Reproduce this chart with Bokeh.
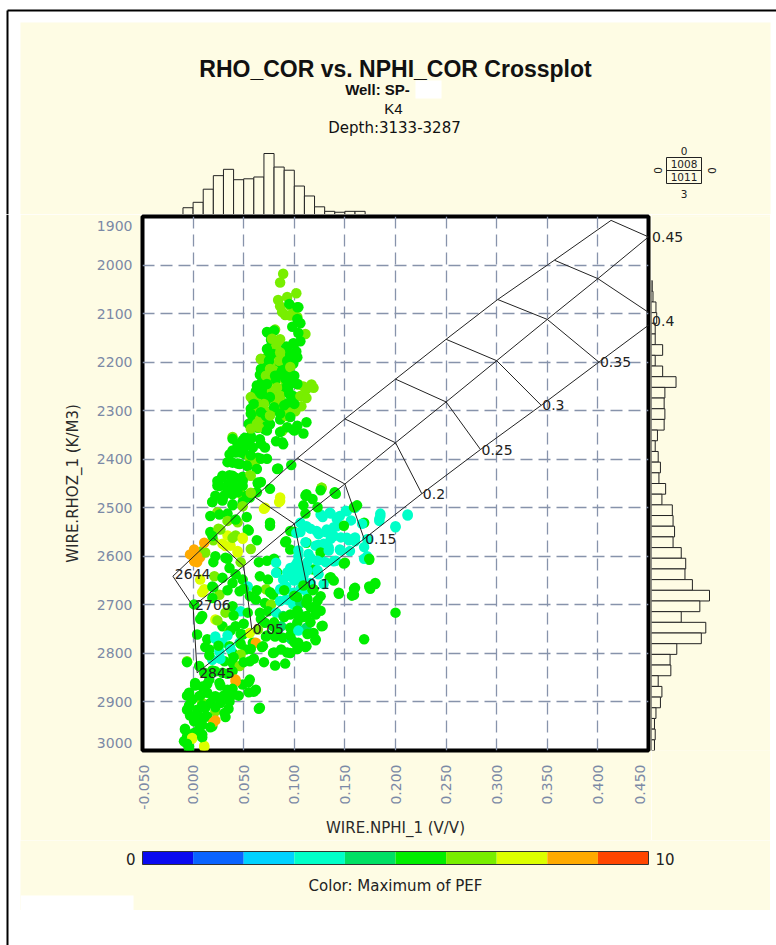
import math
from bokeh.plotting import figure
from bokeh.layouts import column, row
from bokeh.models import Range1d, FixedTicker, NumeralTickFormatter, LinearColorMapper, ColumnDataSource
from bokeh.transform import transform
from bokeh.core.properties import value
from bokeh.embed import file_html
from bokeh.resources import INLINE

# ---------------- data ----------------
TITLE = "RHO_COR vs. NPHI_COR Crossplot"
SUB_WELL = "Well: SP-"
SUB_ZONE = "K4"
SUB_DEPTH = "Depth:3133-3287"
X_LABEL = "WIRE.NPHI_1 (V/V)"
Y_LABEL = "WIRE.RHOZ_1 (K/M3)"
CBAR_LABEL = "Color: Maximum of PEF"
COUNT_BOX = ["0", "1008", "1011", "3", "0", "0"]   # top, plotted, total, bottom, left, right

X_TICKS = [-0.05, 0.0, 0.05, 0.1, 0.15, 0.2, 0.25, 0.3, 0.35, 0.4, 0.45]
X_EDGE_LABELS = ["-0.050", "0.450"]
Y_TICKS = [1900, 2000, 2100, 2200, 2300, 2400, 2500, 2600, 2700, 2800, 2900, 3000]
Y_EDGE_LABELS = ["1900", "3000"]
PEF_LOW, PEF_HIGH = 0, 10
PEF_EDGES = [0, 1, 2, 3, 4, 5, 6, 7, 8, 9, 10]
PALETTE = ["#0a0af0", "#0a64ff", "#00d2ff", "#00ffc8", "#00e064",
           "#00ee00", "#78ee00", "#dcff00", "#ffaa00", "#ff4600"]

# upper (shaly) cluster
NPHI_U = [0.089, 0.086, 0.102, 0.084, 0.093, 0.086, 0.096, 0.104, 0.091, 0.099,
          0.103, 0.098, 0.106, 0.074, 0.081, 0.111, 0.077, 0.086, 0.104, 0.075,
          0.082, 0.092, 0.099, 0.106, 0.067, 0.074, 0.079, 0.089, 0.096, 0.102,
          0.071, 0.077, 0.086, 0.092, 0.099, 0.066, 0.072, 0.081, 0.087, 0.094,
          0.068, 0.076, 0.082, 0.091, 0.098, 0.104, 0.109, 0.117, 0.119, 0.112,
          0.062, 0.071, 0.078, 0.086, 0.094, 0.099, 0.106, 0.112, 0.059, 0.066,
          0.072, 0.081, 0.087, 0.094, 0.102, 0.107, 0.057, 0.064, 0.071, 0.082,
          0.089, 0.096, 0.101, 0.059, 0.066, 0.072, 0.086, 0.092, 0.112, 0.057,
          0.064, 0.071, 0.076, 0.088, 0.099, 0.109, 0.039, 0.051, 0.057, 0.066,
          0.082, 0.089, 0.044, 0.052, 0.059, 0.071, 0.036, 0.042, 0.051, 0.056,
          0.064, 0.039, 0.046, 0.054, 0.061, 0.084, 0.097, 0.029, 0.036, 0.042,
          0.049, 0.056, 0.064, 0.026, 0.034, 0.041, 0.049, 0.022, 0.031, 0.039,
          0.049, 0.056, 0.086, 0.112, 0.127, 0.140]
RHOZ_U = [2018, 2036, 2058, 2072, 2066, 2085, 2084, 2087, 2103, 2099,
          2107, 2127, 2120, 2139, 2133, 2142, 2154, 2153, 2140, 2171,
          2168, 2168, 2161, 2157, 2194, 2188, 2183, 2185, 2188, 2178,
          2209, 2205, 2202, 2209, 2203, 2226, 2222, 2219, 2222, 2226,
          2241, 2239, 2236, 2239, 2243, 2246, 2250, 2246, 2253, 2256,
          2260, 2256, 2260, 2256, 2258, 2270, 2270, 2274, 2277, 2277,
          2280, 2277, 2280, 2284, 2291, 2291, 2296, 2298, 2299, 2298,
          2299, 2304, 2301, 2315, 2318, 2311, 2318, 2311, 2324, 2332,
          2335, 2339, 2328, 2342, 2339, 2347, 2354, 2356, 2352, 2359,
          2363, 2369, 2369, 2373, 2376, 2376, 2390, 2386, 2390, 2397,
          2397, 2407, 2410, 2414, 2407, 2419, 2412, 2434, 2433, 2438,
          2436, 2433, 2448, 2455, 2453, 2456, 2455, 2475, 2474, 2472,
          2475, 2479, 2479, 2472, 2459, 2469]
PEF_U = [6.5, 6.5, 6.5, 6.5, 6.5, 6.5, 6.5, 5.5, 6.5, 6.5,
         6.5, 5.5, 5.5, 5.5, 6.5, 6.5, 5.5, 6.5, 5.5, 5.5,
         6.5, 5.5, 5.5, 5.5, 6.5, 5.5, 5.5, 6.5, 5.5, 5.5,
         5.5, 6.5, 5.5, 5.5, 5.5, 5.5, 5.5, 6.5, 5.5, 5.5,
         5.5, 6.5, 5.5, 6.5, 5.5, 6.5, 6.5, 6.5, 6.5, 6.5,
         5.5, 5.5, 6.5, 5.5, 5.5, 5.5, 6.5, 6.5, 5.5, 6.5,
         5.5, 6.5, 6.5, 5.5, 6.5, 6.5, 5.5, 6.5, 6.5, 6.5,
         6.5, 6.5, 6.5, 5.5, 6.5, 5.5, 5.5, 6.5, 5.5, 5.5,
         5.5, 5.5, 5.5, 6.5, 5.5, 5.5, 6.5, 5.5, 5.5, 5.5,
         5.5, 5.5, 5.5, 5.5, 5.5, 5.5, 5.5, 5.5, 5.5, 6.5,
         5.5, 5.5, 5.5, 5.5, 6.5, 5.5, 5.5, 5.5, 5.5, 5.5,
         5.5, 6.5, 5.5, 5.5, 5.5, 5.5, 5.5, 5.5, 5.5, 5.5,
         6.5, 5.5, 7.5, 5.5, 6.5, 5.5]

NPHI_UA = [0.095, 0.088, 0.096, 0.103, 0.103, 0.073, 0.080, 0.078, 0.085, 0.093,
           0.100, 0.073, 0.086, 0.096, 0.067, 0.075, 0.085, 0.093, 0.103, 0.067,
           0.076, 0.088, 0.096, 0.072, 0.081, 0.091, 0.100, 0.063, 0.073, 0.083,
           0.093, 0.103, 0.057, 0.067, 0.076, 0.086, 0.095, 0.060, 0.070, 0.080,
           0.090, 0.100, 0.057, 0.067, 0.076, 0.086, 0.096, 0.055, 0.063, 0.073,
           0.093, 0.103]
RHOZ_UA = [2080, 2097, 2104, 2087, 2111, 2138, 2135, 2152, 2155, 2169,
           2162, 2173, 2180, 2183, 2193, 2197, 2197, 2197, 2190, 2214,
           2214, 2217, 2210, 2228, 2228, 2234, 2228, 2248, 2245, 2252,
           2248, 2245, 2272, 2265, 2272, 2269, 2265, 2286, 2286, 2293,
           2289, 2286, 2306, 2303, 2310, 2306, 2313, 2327, 2327, 2331,
           2334, 2331]
PEF_UA = [5.5, 6.5, 6.5, 5.5, 5.5, 5.5, 5.5, 6.5, 6.5, 5.5,
          5.5, 5.5, 6.5, 5.5, 6.5, 5.5, 6.5, 5.5, 5.5, 5.5,
          6.5, 5.5, 6.5, 6.5, 5.5, 5.5, 5.5, 5.5, 5.5, 6.5,
          5.5, 5.5, 6.5, 5.5, 5.5, 6.5, 5.5, 5.5, 6.5, 5.5,
          5.5, 5.5, 5.5, 5.5, 6.5, 5.5, 5.5, 5.5, 6.5, 5.5,
          5.5, 5.5]

# transition zone
NPHI_M = [0.057, 0.065, 0.073, 0.086, 0.100, 0.039, 0.049, 0.057, 0.067, 0.088,
          0.039, 0.047, 0.057, 0.067, 0.073, 0.083, 0.034, 0.044, 0.053, 0.063,
          0.029, 0.039, 0.049, 0.057, 0.067, 0.076, 0.024, 0.034, 0.044, 0.053,
          0.063, 0.019, 0.029, 0.039, 0.049, 0.085, 0.070, 0.024, 0.034, 0.044,
          0.053, 0.076, 0.017, 0.025, 0.034, 0.042, 0.049, 0.055, 0.063, 0.020,
          0.029, 0.037, 0.044, 0.057, 0.001, 0.007, 0.004, 0.012, 0.020, 0.034,
          0.047, 0.065, 0.073, 0.080, 0.091, 0.100, 0.083, 0.093, 0.101]
RHOZ_M = [2337, 2334, 2341, 2344, 2341, 2358, 2361, 2358, 2368, 2365,
          2382, 2386, 2392, 2399, 2399, 2420, 2406, 2409, 2413, 2420,
          2437, 2434, 2440, 2434, 2447, 2461, 2454, 2461, 2468, 2475,
          2468, 2488, 2485, 2495, 2488, 2488, 2502, 2509, 2512, 2530,
          2519, 2537, 2550, 2543, 2557, 2557, 2564, 2547, 2567, 2567,
          2574, 2578, 2592, 2585, 2592, 2602, 2612, 2592, 2612, 2605,
          2612, 2612, 2609, 2605, 2571, 2550, 2633, 2633, 2619]
PEF_M = [6.5, 6.5, 5.5, 5.5, 5.5, 5.5, 5.5, 5.5, 5.5, 5.5,
         5.5, 5.5, 5.5, 5.5, 5.5, 5.5, 5.5, 5.5, 5.5, 5.5,
         5.5, 5.5, 5.5, 6.5, 5.5, 5.5, 5.5, 5.5, 5.5, 5.5,
         5.5, 5.5, 5.5, 5.5, 5.5, 7.5, 7.5, 6.5, 5.5, 6.5,
         5.5, 5.5, 5.5, 6.5, 7.5, 6.5, 7.5, 5.5, 5.5, 6.5,
         7.5, 7.5, 7.5, 6.5, 8.5, 8.5, 8.5, 6.5, 5.5, 5.5,
         6.5, 5.5, 5.5, 5.5, 5.5, 5.5, 5.5, 3.5, 3.5]

# lower (clean) cluster
NPHI_L = [0.024, 0.039, 0.049, 0.034, 0.042, 0.029, 0.019, 0.064, 0.057, 0.039,
          0.049, 0.071, 0.086, 0.112, 0.127, 0.140, 0.017, 0.026, 0.034, 0.042,
          0.054, 0.076, 0.096, 0.027, 0.019, 0.039, 0.049, 0.032, 0.044, 0.022,
          0.032, 0.009, 0.001, 0.004, 0.001, 0.011, -0.003, 0.126, 0.135, 0.145,
          0.152, 0.160, 0.169, 0.172, 0.185, 0.184, 0.200, 0.212, 0.112, 0.122,
          0.132, 0.142, 0.139, 0.152, 0.160, 0.112, 0.124, 0.134, 0.145, 0.155,
          0.172, 0.174, 0.150, 0.139, 0.126, 0.116, 0.104, 0.096, 0.092, 0.102,
          0.106, 0.082, 0.096, 0.106, 0.119, 0.124, 0.135, 0.144, 0.159, 0.160,
          0.174, 0.180, 0.200, 0.169, 0.066, 0.074, 0.082, 0.089, 0.096, 0.102,
          0.109, 0.116, 0.072, 0.079, 0.086, 0.092, 0.099, 0.106, 0.112, 0.119,
          0.126, 0.062, 0.071, 0.077, 0.086, 0.092, 0.099, 0.106, 0.112, 0.121,
          0.066, 0.074, 0.082, 0.089, 0.096, 0.104, 0.112, 0.121, 0.127, 0.071,
          0.079, 0.087, 0.096, 0.104, 0.112, 0.119, 0.121, 0.112, 0.072, 0.081,
          0.089, 0.097, 0.104, 0.059, 0.069, 0.079, 0.087, 0.096, 0.106, 0.021,
          0.029, 0.036, 0.042, 0.049, 0.007, 0.011, 0.019, 0.026, 0.019, 0.039,
          0.046, 0.054, 0.056, 0.001, 0.009, 0.022, 0.032, 0.039, 0.047, 0.054,
          0.029, 0.036, 0.042, 0.049, 0.056, 0.064, 0.062, 0.004, 0.014, 0.022,
          0.029, 0.036, 0.046, 0.052, 0.016, 0.026, 0.039, 0.047, 0.056, 0.019,
          0.031, 0.039, 0.046, -0.006, 0.006, 0.011, 0.022, 0.029, 0.039, 0.042,
          0.049, 0.056, 0.062, 0.055, 0.002, 0.009, 0.016, 0.026, 0.034, 0.039,
          -0.004, 0.006, 0.014, 0.022, -0.001, 0.009, 0.017, 0.027, 0.036, 0.066,
          -0.006, 0.004, 0.012, 0.022, 0.031, 0.006, 0.014, 0.022, 0.001, 0.009,
          0.019, -0.008, 0.001, 0.009, -0.006, -0.001, -0.009, -0.004, 0.011]
RHOZ_L = [2445, 2448, 2445, 2466, 2459, 2483, 2488, 2450, 2469, 2493,
          2497, 2500, 2486, 2475, 2459, 2468, 2517, 2514, 2527, 2524,
          2545, 2531, 2548, 2545, 2558, 2562, 2562, 2579, 2589, 2600,
          2603, 2589, 2586, 2600, 2610, 2572, 2596, 2514, 2510, 2517,
          2507, 2500, 2531, 2565, 2517, 2527, 2538, 2514, 2538, 2548,
          2545, 2538, 2558, 2562, 2569, 2572, 2576, 2582, 2586, 2589,
          2600, 2607, 2613, 2610, 2607, 2603, 2600, 2586, 2569, 2552,
          2531, 2613, 2624, 2624, 2627, 2637, 2644, 2675, 2679, 2665,
          2662, 2655, 2716, 2771, 2641, 2648, 2634, 2648, 2641, 2648,
          2641, 2655, 2668, 2679, 2668, 2662, 2675, 2668, 2672, 2668,
          2682, 2689, 2696, 2699, 2692, 2689, 2699, 2696, 2696, 2703,
          2716, 2713, 2716, 2723, 2720, 2716, 2723, 2720, 2744, 2737,
          2744, 2744, 2747, 2751, 2747, 2758, 2771, 2785, 2765, 2765,
          2768, 2771, 2778, 2778, 2785, 2799, 2792, 2799, 2785, 2641,
          2644, 2624, 2637, 2648, 2648, 2668, 2662, 2679, 2686, 2655,
          2672, 2662, 2682, 2699, 2723, 2730, 2716, 2703, 2713, 2716,
          2744, 2754, 2744, 2761, 2758, 2751, 2778, 2761, 2771, 2765,
          2778, 2785, 2778, 2792, 2792, 2796, 2799, 2802, 2816, 2813,
          2816, 2820, 2826, 2816, 2826, 2840, 2837, 2840, 2837, 2854,
          2864, 2854, 2875, 2880, 2861, 2868, 2854, 2861, 2875, 2885,
          2881, 2888, 2881, 2888, 2895, 2902, 2902, 2902, 2899, 2912,
          2916, 2916, 2912, 2919, 2923, 2930, 2930, 2938, 2940, 2947,
          2950, 2957, 2964, 2967, 2971, 2974, 2981, 2992, 2990]
PEF_L = [5.5, 5.5, 5.5, 5.5, 5.5, 5.5, 5.5, 5.5, 6.5, 5.5,
         6.5, 7.5, 7.5, 5.5, 6.5, 5.5, 5.5, 5.5, 6.5, 5.5,
         5.5, 5.5, 5.5, 6.5, 5.5, 6.5, 7.5, 7.5, 7.5, 5.5,
         5.5, 6.5, 8.5, 8.5, 8.5, 8.5, 8.5, 3.5, 3.5, 3.5,
         3.5, 3.5, 5.5, 3.5, 3.5, 3.5, 3.5, 3.5, 3.5, 3.5,
         3.5, 3.5, 3.5, 3.5, 3.5, 5.5, 3.5, 3.5, 3.5, 3.5,
         3.5, 5.5, 5.5, 3.5, 3.5, 3.5, 3.5, 5.5, 5.5, 3.5,
         3.5, 3.5, 3.5, 3.5, 5.5, 3.5, 5.5, 5.5, 5.5, 5.5,
         5.5, 5.5, 5.5, 5.5, 5.5, 5.5, 3.5, 3.5, 3.5, 3.5,
         3.5, 3.5, 6.5, 5.5, 3.5, 3.5, 3.5, 3.5, 3.5, 5.5,
         5.5, 5.5, 5.5, 6.5, 3.5, 3.5, 3.5, 4.5, 5.5, 5.5,
         5.5, 5.5, 3.5, 4.5, 5.5, 4.5, 5.5, 5.5, 5.5, 5.5,
         5.5, 4.5, 5.5, 5.5, 4.5, 5.5, 5.5, 5.5, 5.5, 5.5,
         5.5, 4.5, 5.5, 5.5, 5.5, 5.5, 5.5, 5.5, 5.5, 6.5,
         5.5, 5.5, 5.5, 5.5, 7.5, 7.5, 5.5, 6.5, 5.5, 5.5,
         5.5, 3.5, 5.5, 5.5, 5.5, 7.5, 6.5, 5.5, 3.5, 5.5,
         5.5, 6.5, 5.5, 5.5, 7.5, 6.5, 8.5, 5.5, 5.5, 3.5,
         3.5, 5.5, 3.5, 5.5, 5.5, 3.5, 5.5, 6.5, 5.5, 3.5,
         5.5, 5.5, 6.5, 6.5, 5.5, 5.5, 5.5, 5.5, 5.5, 8.5,
         5.5, 5.5, 5.5, 5.5, 5.5, 5.5, 5.5, 5.5, 5.5, 5.5,
         5.5, 5.5, 5.5, 5.5, 5.5, 6.5, 5.5, 5.5, 5.5, 5.5,
         5.5, 5.5, 5.5, 6.5, 5.5, 5.5, 5.5, 8.5, 5.5, 5.5,
         5.5, 5.5, 5.5, 5.5, 5.5, 7.5, 5.5, 5.5, 7.5]

NPHI_L2 = [0.009, 0.020, 0.034, 0.050, 0.063, 0.076, 0.090, 0.100, 0.007, 0.024,
           0.040, 0.037, 0.050, 0.067, 0.080, 0.090, 0.103, 0.022, 0.034, 0.047,
           0.073, 0.083, 0.096, 0.012, 0.025, 0.037, 0.047, 0.057, 0.068, 0.080,
           0.093, 0.103, -0.006, 0.016, 0.027, 0.040, 0.050, 0.060, 0.070, 0.081,
           0.091, 0.019, 0.034, 0.042, 0.055, 0.002, 0.014, 0.027, 0.039, 0.060,
           -0.006, 0.007, 0.020, 0.030, 0.045, -0.004, 0.009, 0.022, 0.035, 0.065,
           -0.003, 0.011, 0.020, 0.032, -0.008, 0.006, 0.017, -0.001, 0.009, -0.006,
           0.011, -0.004]
RHOZ_L2 = [2674, 2664, 2670, 2667, 2670, 2674, 2670, 2681, 2729, 2732,
           2722, 2753, 2739, 2729, 2736, 2725, 2736, 2770, 2763, 2760,
           2763, 2756, 2763, 2787, 2784, 2791, 2780, 2791, 2787, 2798,
           2798, 2791, 2818, 2804, 2811, 2808, 2818, 2811, 2818, 2825,
           2821, 2835, 2842, 2858, 2859, 2866, 2863, 2866, 2873, 2879,
           2887, 2887, 2890, 2887, 2887, 2907, 2907, 2911, 2914, 2914,
           2928, 2931, 2942, 2931, 2955, 2955, 2952, 2976, 2973, 2986,
           2993, 2998]
PEF_L2 = [7.5, 5.5, 5.5, 5.5, 5.5, 5.5, 5.5, 5.5, 5.5, 6.5,
          5.5, 5.5, 5.5, 5.5, 5.5, 5.5, 5.5, 3.5, 3.5, 5.5,
          5.5, 5.5, 5.5, 5.5, 5.5, 3.5, 5.5, 5.5, 5.5, 5.5,
          5.5, 5.5, 5.5, 5.5, 3.5, 5.5, 5.5, 5.5, 5.5, 5.5,
          5.5, 5.5, 5.5, 8.5, 5.5, 5.5, 5.5, 5.5, 5.5, 5.5,
          5.5, 5.5, 5.5, 5.5, 5.5, 5.5, 5.5, 5.5, 5.5, 5.5,
          5.5, 5.5, 8.5, 5.5, 5.5, 5.5, 5.5, 7.5, 5.5, 5.5,
          7.5, 5.5]

NPHI_A = [0.111, 0.118, 0.126, 0.141, 0.109, 0.111, 0.123, 0.128, 0.136, 0.142,
          0.151, 0.159, 0.162, 0.167, 0.156, 0.149, 0.139, 0.131, 0.124, 0.116,
          0.106, 0.111, 0.121, 0.129, 0.136, 0.146, 0.154, 0.160, 0.169, 0.184,
          0.185, 0.200, 0.212, 0.104, 0.114, 0.126, 0.134, 0.146, 0.141, 0.149,
          0.169, 0.174, 0.103, 0.113, 0.123, 0.131, 0.103, 0.113, 0.123, 0.136,
          0.129, 0.139, 0.100, 0.109, 0.118, 0.144, 0.159, 0.175, 0.180, 0.157,
          0.103, 0.113, 0.123, 0.116, 0.103, 0.126, 0.103, 0.109, 0.116, 0.128,
          0.104, 0.113, 0.121, 0.100, 0.111]
RHOZ_A = [2475, 2482, 2464, 2471, 2495, 2512, 2499, 2519, 2512, 2523,
          2506, 2499, 2495, 2533, 2526, 2537, 2540, 2550, 2554, 2543,
          2550, 2571, 2578, 2574, 2564, 2561, 2567, 2561, 2581, 2523,
          2512, 2540, 2516, 2588, 2595, 2592, 2588, 2588, 2609, 2615,
          2605, 2605, 2612, 2612, 2609, 2612, 2633, 2629, 2629, 2643,
          2657, 2650, 2650, 2660, 2670, 2677, 2667, 2667, 2657, 2681,
          2684, 2688, 2691, 2705, 2712, 2712, 2719, 2725, 2736, 2743,
          2753, 2760, 2773, 2777, 2787]
PEF_A = [5.5, 5.5, 5.5, 5.5, 5.5, 5.5, 5.5, 3.5, 3.5, 3.5,
         3.5, 5.5, 5.5, 3.5, 3.5, 5.5, 3.5, 3.5, 3.5, 3.5,
         3.5, 3.5, 3.5, 3.5, 3.5, 3.5, 3.5, 3.5, 3.5, 3.5,
         3.5, 3.5, 3.5, 3.5, 3.5, 5.5, 3.5, 3.5, 3.5, 5.5,
         3.5, 5.5, 3.5, 3.5, 3.5, 3.5, 3.5, 3.5, 3.5, 5.5,
         3.5, 5.5, 3.5, 5.5, 5.5, 5.5, 5.5, 5.5, 5.5, 5.5,
         5.5, 5.5, 5.5, 5.5, 5.5, 5.5, 5.5, 5.5, 5.5, 5.5,
         3.5, 5.5, 5.5, 5.5, 5.5]

# marginal histograms
NPHI_BIN_W = 0.01
TOP_BIN_LEFT = [-0.01, 0.0, 0.01, 0.02, 0.03, 0.04, 0.05, 0.06, 0.07,
                0.08, 0.09, 0.10, 0.11, 0.12, 0.13, 0.14, 0.15, 0.16]
TOP_COUNTS = [15, 27, 56, 86, 100, 77, 79, 83, 135, 105, 98, 63, 41, 17, 7, 5, 7, 7]
RHOZ_BIN_W = 22
RIGHT_BIN_TOP = [2032, 2054, 2076, 2098, 2120, 2142, 2164, 2186, 2208, 2230, 2252,
                 2274, 2296, 2318, 2340, 2362, 2384, 2406, 2428, 2450, 2472, 2494,
                 2516, 2538, 2560, 2582, 2604, 2626, 2648, 2670, 2692, 2714, 2736,
                 2758, 2780, 2802, 2824, 2846, 2868, 2890, 2912, 2934, 2956, 2978]
RIGHT_COUNTS = [1, 2, 6, 7, 5, 5, 15, 5, 15, 33, 18, 17, 18, 17, 8, 5, 9, 12, 10, 19,
                14, 28, 29, 31, 29, 40, 46, 45, 55, 78, 65, 40, 73, 67, 34, 25, 26, 9,
                14, 12, 6, 4, 5, 4]

# lithology chart overlay (porosity 0 .. 0.45)
PHI_LABELS = ["0", "0.05", "0.1", "0.15", "0.2", "0.25", "0.3", "0.35", "0.4", "0.45"]
SAND_NPHI = [-0.020, 0.020, 0.061, 0.103, 0.150, 0.200, 0.250, 0.301, 0.357, 0.413]
SAND_RHOZ = [2641, 2562, 2478, 2398, 2317, 2235, 2153, 2071, 1990, 1908]
LIME_NPHI = [0.0, 0.05, 0.10, 0.15, 0.20, 0.25, 0.30, 0.35, 0.40, 0.45]
LIME_RHOZ = [2703, 2620, 2533, 2451, 2366, 2282, 2197, 2112, 2028, 1942]
DOLO_NPHI = [0.004, 0.058, 0.112, 0.169, 0.226, 0.284, 0.344, 0.401, 0.459, 0.517]
DOLO_RHOZ = [2840, 2750, 2656, 2564, 2471, 2380, 2289, 2200, 2110, 2018]
MATRIX_LABELS = ["2644", "2706", "2845"]
EDGE_LABELS = ["0.4", "0.45"]
EDGE_LABEL_NPHI = [0.4535, 0.4535]
EDGE_LABEL_RHOZ = [2116, 1942]

NPHI = NPHI_U + NPHI_UA + NPHI_M + NPHI_L + NPHI_L2 + NPHI_A
RHOZ = RHOZ_U + RHOZ_UA + RHOZ_M + RHOZ_L + RHOZ_L2 + RHOZ_A
PEF = PEF_U + PEF_UA + PEF_M + PEF_L + PEF_L2 + PEF_A
for a, b, c in [(NPHI_U, RHOZ_U, PEF_U), (NPHI_UA, RHOZ_UA, PEF_UA), (NPHI_M, RHOZ_M, PEF_M),
                (NPHI_L, RHOZ_L, PEF_L), (NPHI_L2, RHOZ_L2, PEF_L2), (NPHI_A, RHOZ_A, PEF_A)]:
    assert len(a) == len(b) == len(c), (len(a), len(b), len(c))

# ---------------- layout / styling ----------------
CREAM = "#fefce4"
INK = "#222222"
TICK_COL = "#7b89a6"
GRID_COL = "#8793ab"
PAGE_W = 776
TOP_H = 214
LEFT_W = 20
CREAM_R, CREAM_B = 770, 910
FRAME_L, FRAME_R, FRAME_T, FRAME_B = 142, 648, 216, 750
MAIN_W = 651 - LEFT_W
MAIN_H = 840 - TOP_H
X0, X1 = -0.05, 0.45
Y0, Y1 = 3000, 1900
PX_PER_NPHI = (FRAME_R - FRAME_L) / (X1 - X0)
TOP_HIST_PX = 61
RIGHT_HIST_PX = 58
SANS = value("Liberation Sans")
DJ = value("DejaVu Sans")


def blank(w, h, xr, yr, bg):
    f = figure(width=w, height=h, x_range=xr, y_range=yr, x_axis_type=None, y_axis_type=None,
               toolbar_location=None, output_backend="svg", title=None, min_border=0)
    f.background_fill_color = bg
    f.border_fill_color = bg
    f.outline_line_color = None
    return f


# ---- top strip: titles, count box, NPHI histogram
T = blank(PAGE_W, TOP_H, Range1d(0, PAGE_W), Range1d(TOP_H, 0), "white")
T.extra_x_ranges = {"nphi": Range1d(X0 - FRAME_L / PX_PER_NPHI, X1 + (PAGE_W - FRAME_R) / PX_PER_NPHI)}
T.extra_y_ranges = {"cnt": Range1d(0, TOP_H * max(TOP_COUNTS) / TOP_HIST_PX)}
T.quad(left=[LEFT_W], right=[CREAM_R], top=[22], bottom=[TOP_H], fill_color=CREAM, line_color=None)
T.segment(x0=[7, 7], y0=[10, 10], x1=[PAGE_W, 7], y1=[10, TOP_H], line_color="black", line_width=2)
T.text(x=[395], y=[68], text=[TITLE], text_font=SANS, text_font_style="bold",
       text_font_size="23px", text_align="center", text_baseline="middle", text_color="#111111")
T.text(x=[377], y=[89], text=[SUB_WELL], text_font=SANS, text_font_style="bold",
       text_font_size="15px", text_align="center", text_baseline="middle", text_color="#111111")
T.quad(left=[415], right=[441], top=[80], bottom=[98], fill_color="white", line_color=None)
T.text(x=[393], y=[108], text=[SUB_ZONE], text_font=SANS, text_font_size="15px",
       text_align="center", text_baseline="middle", text_color="#111111")
T.text(x=[394], y=[127], text=[SUB_DEPTH], text_font=DJ, text_font_size="15px",
       text_align="center", text_baseline="middle", text_color="#111111")
T.quad(left=TOP_BIN_LEFT, right=[b + NPHI_BIN_W for b in TOP_BIN_LEFT], top=TOP_COUNTS, bottom=0,
       fill_color=CREAM, line_color=INK, line_width=1, x_range_name="nphi", y_range_name="cnt")
# count box
T.quad(left=[666], right=[701], top=[157], bottom=[183], fill_color=None, line_color=INK, line_width=1)
T.segment(x0=[666], y0=[170], x1=[701], y1=[170], line_color=INK, line_width=1)
T.text(x=[683.5, 683.5, 683.5, 683.5], y=[150, 163.5, 176.5, 193], text=COUNT_BOX[:4],
       text_font=DJ, text_font_size="10.5px", text_align="center", text_baseline="middle", text_color=INK)
T.text(x=[657, 711], y=[170, 170], text=COUNT_BOX[4:], angle=[math.pi / 2, -math.pi / 2],
       text_font=DJ, text_font_size="10.5px", text_align="center", text_baseline="middle", text_color=INK)

# ---- left white strip with page line
S = blank(LEFT_W, 945 - TOP_H, Range1d(0, LEFT_W), Range1d(945, TOP_H), "white")
S.segment(x0=[7], y0=[TOP_H], x1=[7], y1=[945], line_color="black", line_width=2)

# ---- main crossplot
M = figure(width=MAIN_W, height=MAIN_H, x_range=Range1d(X0, X1), y_range=Range1d(Y0, Y1),
           toolbar_location=None, output_backend="svg", title=None,
           min_border_left=FRAME_L - LEFT_W, min_border_right=LEFT_W + MAIN_W - FRAME_R,
           min_border_top=FRAME_T - TOP_H, min_border_bottom=TOP_H + MAIN_H - FRAME_B)
M.background_fill_color = "white"
M.border_fill_color = CREAM
M.outline_line_color = "black"
M.outline_line_width = 4
M.xaxis.ticker = FixedTicker(ticks=X_TICKS)
M.yaxis.ticker = FixedTicker(ticks=Y_TICKS)
M.xaxis.formatter = NumeralTickFormatter(format="0.000")
M.yaxis.formatter = NumeralTickFormatter(format="0")
# edge labels are nudged inside the frame extent, as in the original
M.xaxis.major_label_overrides = {X_TICKS[0]: "\n" + X_EDGE_LABELS[0], X_TICKS[-1]: X_EDGE_LABELS[1] + "\n"}
M.yaxis.major_label_overrides = {Y_TICKS[0]: "\n" + Y_EDGE_LABELS[0], Y_TICKS[-1]: Y_EDGE_LABELS[1] + "\n" * 5}
M.xaxis.major_label_text_line_height = 0.2
M.yaxis.major_label_text_line_height = 0.2
M.xaxis.major_label_orientation = math.pi / 2
M.xaxis.axis_label = X_LABEL
M.yaxis.axis_label = Y_LABEL
for ax in (M.xaxis[0], M.yaxis[0]):
    ax.axis_line_color = None
    ax.major_tick_line_color = None
    ax.minor_tick_line_color = None
    ax.major_label_text_color = TICK_COL
    ax.major_label_text_font = "DejaVu Sans"
    ax.major_label_text_font_size = "14px"
    ax.axis_label_text_font = "DejaVu Sans"
    ax.axis_label_text_font_size = "15px"
    ax.axis_label_text_font_style = "normal"
    ax.axis_label_text_color = "#2a2a2a"
M.xaxis.major_label_standoff = 8
M.xaxis.axis_label_standoff = 6
M.yaxis.major_label_standoff = 4
M.yaxis.axis_label_standoff = 12
M.xgrid.ticker = FixedTicker(ticks=X_TICKS)
M.ygrid.ticker = FixedTicker(ticks=Y_TICKS)
M.grid.grid_line_color = GRID_COL
M.grid.grid_line_dash = "12 6"
M.grid.grid_line_width = 1.3

mapper = LinearColorMapper(palette=PALETTE, low=PEF_LOW, high=PEF_HIGH)
src = ColumnDataSource(dict(nphi=NPHI, rhoz=RHOZ, pef=PEF))
M.scatter("nphi", "rhoz", source=src, marker="circle", size=10.5,
          fill_color=transform("pef", mapper), line_color=None)

# chart overlay
M.multi_line(xs=[SAND_NPHI, LIME_NPHI, DOLO_NPHI], ys=[SAND_RHOZ, LIME_RHOZ, DOLO_RHOZ],
             line_color=INK, line_width=1)
M.multi_line(xs=[[SAND_NPHI[i], LIME_NPHI[i], DOLO_NPHI[i]] for i in range(len(PHI_LABELS))],
             ys=[[SAND_RHOZ[i], LIME_RHOZ[i], DOLO_RHOZ[i]] for i in range(len(PHI_LABELS))],
             line_color=INK, line_width=1)
M.text(x=DOLO_NPHI[1:8], y=DOLO_RHOZ[1:8], text=PHI_LABELS[1:8], x_offset=1,
       text_font=DJ, text_font_size="14px", text_align="left", text_baseline="middle", text_color=INK)
M.text(x=[SAND_NPHI[0], LIME_NPHI[0], DOLO_NPHI[0]], y=[SAND_RHOZ[0] - 5, LIME_RHOZ[0] - 3, DOLO_RHOZ[0]],
       text=MATRIX_LABELS, x_offset=2,
       text_font=DJ, text_font_size="14px", text_align="left", text_baseline="middle", text_color=INK)

# ---- right RHOZ histogram
R_W = CREAM_R - 651
R = blank(R_W, MAIN_H,
          Range1d(X1 + (651 - FRAME_R) / PX_PER_NPHI, X1 + (CREAM_R - FRAME_R) / PX_PER_NPHI),
          Range1d(Y0, Y1), CREAM)
R.min_border_top = FRAME_T - TOP_H
R.min_border_bottom = TOP_H + MAIN_H - FRAME_B
R.extra_x_ranges = {"cnt": Range1d(0, R_W * max(RIGHT_COUNTS) / RIGHT_HIST_PX)}
R.quad(left=0, right=RIGHT_COUNTS, top=RIGHT_BIN_TOP, bottom=[t + RHOZ_BIN_W for t in RIGHT_BIN_TOP],
       fill_color=CREAM, line_color=INK, line_width=1, x_range_name="cnt")
R.text(x=EDGE_LABEL_NPHI, y=EDGE_LABEL_RHOZ, text=EDGE_LABELS,
       text_font=DJ, text_font_size="14px", text_align="left", text_baseline="middle", text_color=INK)

# ---- bottom strip: colour bar
B = blank(CREAM_R - LEFT_W, CREAM_B - 840, Range1d(LEFT_W, CREAM_R), Range1d(CREAM_B, 840), CREAM)
PX_PER_PEF = (FRAME_R - FRAME_L) / (PEF_HIGH - PEF_LOW)
B.extra_x_ranges = {"pef": Range1d(PEF_LOW - (FRAME_L - LEFT_W) / PX_PER_PEF,
                                   PEF_HIGH + (CREAM_R - FRAME_R) / PX_PER_PEF)}
B.quad(left=PEF_EDGES[:-1], right=PEF_EDGES[1:], top=851, bottom=864,
       fill_color=PALETTE, line_color=None, x_range_name="pef")
B.quad(left=[PEF_LOW], right=[PEF_HIGH], top=[851], bottom=[864], fill_color=None,
       line_color="#333333", line_width=1, x_range_name="pef")
B.text(x=[PEF_LOW], y=[858], text=[str(PEF_LOW)], x_offset=-7, x_range_name="pef",
       text_font=DJ, text_font_size="15px", text_align="right", text_baseline="middle", text_color=INK)
B.text(x=[PEF_HIGH], y=[858], text=[str(PEF_HIGH)], x_offset=7, x_range_name="pef",
       text_font=DJ, text_font_size="15px", text_align="left", text_baseline="middle", text_color=INK)
B.text(x=[395], y=[885], text=[CBAR_LABEL], text_font=DJ, text_font_size="15px",
       text_align="center", text_baseline="middle", text_color=INK)
B.quad(left=[LEFT_W], right=[133], top=[895], bottom=[CREAM_B], fill_color="white", line_color=None)

root = column(T, row(S, column(row(M, R), B)))
open("out.html", "w").write(file_html(root, INLINE))
